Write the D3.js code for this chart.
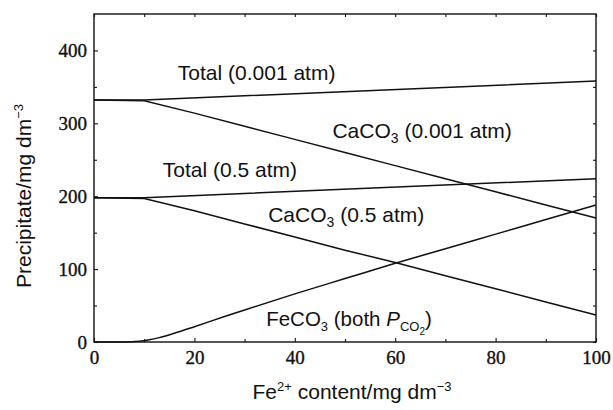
<!DOCTYPE html>
<html><head><meta charset="utf-8">
<script src="https://cdn.jsdelivr.net/npm/d3@7"></script>
<style>body{margin:0;background:#fff}</style>
</head><body><svg id="c" width="613" height="410"></svg>
<script>
// ---- data ----
const xTickVals = [0, 20, 40, 60, 80, 100];
const xMinorVals = [10, 30, 50, 70, 90];
const yTickVals = [0, 100, 200, 300, 400];
const yMinorVals = [50, 150, 250, 350];

const totalX = [0, 10, 100];
const total001 = [332, 332, 358];
const total05 = [198, 198, 224];

const caX = [0, 10, 20, 30, 40, 50, 60, 70, 80, 90, 100];
const caco3_001 = [332, 331, 314, 296, 278, 260, 242, 224, 206, 188, 170];
const caco3_05 = [198, 197, 180, 162, 144, 126, 109, 91, 73, 55, 37];

const feX = [0, 6, 9, 11, 13, 16, 20, 26, 30, 40, 50, 60, 70, 80, 90, 100];
const feco3 = [0, 0, 1, 3, 6, 12, 21, 35, 44, 66, 87, 108, 128, 148, 168, 188];

// ---- layout ----
const W = 613, H = 410;
const m = {l: 94, r: 17, t: 14, b: 68};
const svg = d3.select("#c");
const x = d3.scaleLinear().domain([0, 100]).range([m.l, W - m.r]);
const y = d3.scaleLinear().domain([0, 450]).range([H - m.b, m.t]);

const sans = "'Liberation Sans', Arial, Helvetica, sans-serif";
const serif = "'Liberation Serif', 'Times New Roman', serif";

// frame
svg.append("rect").attr("x", x(0)).attr("y", y(450))
  .attr("width", x(100) - x(0)).attr("height", y(0) - y(450))
  .attr("fill", "none").attr("stroke", "#111").attr("stroke-width", 1.4);

// axes (inward ticks)
function styleAxis(g) {
  g.select(".domain").remove();
  g.selectAll("line").attr("stroke", "#111").attr("stroke-width", 1.1);
  g.selectAll("text").attr("fill", "#111").style("font-family", serif).style("font-size", "19px")
    .attr("stroke", "#111").attr("stroke-width", 0.35);
}
const ax = d3.axisBottom(x).tickValues(xTickVals).tickSizeInner(-4).tickSizeOuter(0).tickPadding(9).tickFormat(d3.format("d"));
svg.append("g").attr("transform", `translate(0,${y(0)})`).call(ax).call(styleAxis);
svg.append("g").attr("transform", `translate(0,${y(0)})`)
  .call(d3.axisBottom(x).tickValues(xMinorVals).tickSizeInner(-3).tickSizeOuter(0).tickFormat(""))
  .call(styleAxis);
svg.append("g").attr("transform", `translate(0,${y(450)})`)
  .call(d3.axisTop(x).tickValues(xTickVals.concat(xMinorVals)).tickSizeInner(-3).tickSizeOuter(0).tickFormat(""))
  .call(styleAxis);

const ay = d3.axisLeft(y).tickValues(yTickVals).tickSizeInner(-4).tickSizeOuter(0).tickPadding(7).tickFormat(d3.format("d"));
svg.append("g").attr("transform", `translate(${x(0)},0)`).call(ay).call(styleAxis);
svg.append("g").attr("transform", `translate(${x(0)},0)`)
  .call(d3.axisLeft(y).tickValues(yMinorVals).tickSizeInner(-3).tickSizeOuter(0).tickFormat(""))
  .call(styleAxis);
svg.append("g").attr("transform", `translate(${x(100)},0)`)
  .call(d3.axisRight(y).tickValues(yTickVals.concat(yMinorVals)).tickSizeInner(-3).tickSizeOuter(0).tickFormat(""))
  .call(styleAxis);

// lines
function drawLine(xs, ys, curve) {
  const pts = xs.map((d, i) => [d, ys[i]]);
  svg.append("path").datum(pts)
    .attr("fill", "none").attr("stroke", "#111").attr("stroke-width", 1.5)
    .attr("d", d3.line().x(d => x(d[0])).y(d => y(d[1])).curve(curve)(pts));
}
drawLine(totalX, total001, d3.curveLinear);
drawLine(totalX, total05, d3.curveLinear);
drawLine(caX, caco3_001, d3.curveLinear);
drawLine(caX, caco3_05, d3.curveLinear);
drawLine(feX, feco3, d3.curveMonotoneX);

// labels
function label(xv, yv, parts, fs) {
  const t = svg.append("text").attr("x", x(xv)).attr("y", y(yv))
    .style("font-family", sans).style("font-size", fs + "px").attr("fill", "#111");
  parts.forEach(p => {
    const s = t.append("tspan").text(p.t);
    if (p.size) s.style("font-size", p.size + "px");
    if (p.dy) s.attr("dy", p.dy);
    if (p.it) s.style("font-style", "italic");
  });
}
label(16.7, 359, [{t: "Total (0.001 atm)"}], 21);
label(47.5, 280, [{t: "CaCO"}, {t: "3", size: 14, dy: 5}, {t: " (0.001 atm)", dy: -5}], 21);
label(13.7, 226, [{t: "Total (0.5 atm)"}], 21);
label(34.7, 165, [{t: "CaCO"}, {t: "3", size: 14, dy: 5}, {t: " (0.5 atm)", dy: -5}], 21);
label(34.3, 22, [{t: "FeCO"}, {t: "3", size: 13, dy: 5}, {t: " (both ", dy: -5}, {t: "P", it: true},
  {t: "CO", size: 13, dy: 5}, {t: "2", size: 10, dy: 4}, {t: ")", dy: -9}], 20.5);

// axis titles
const xt = svg.append("text").attr("x", 352).attr("y", 399)
  .attr("text-anchor", "middle").style("font-family", sans).style("font-size", "21px").attr("fill", "#111");
xt.append("tspan").text("Fe");
xt.append("tspan").text("2+").style("font-size", "13px").attr("dy", -8);
xt.append("tspan").text(" content/mg dm").attr("dy", 8);
xt.append("tspan").text("\u22123").style("font-size", "13px").attr("dy", -8);

const yt = svg.append("text").attr("transform", `translate(31,196) rotate(-90)`)
  .attr("text-anchor", "middle").style("font-family", sans).style("font-size", "21px").attr("fill", "#111");
yt.append("tspan").text("Precipitate/mg dm");
yt.append("tspan").text("\u22123").style("font-size", "13px").attr("dy", -8);
</script>
</body></html>
